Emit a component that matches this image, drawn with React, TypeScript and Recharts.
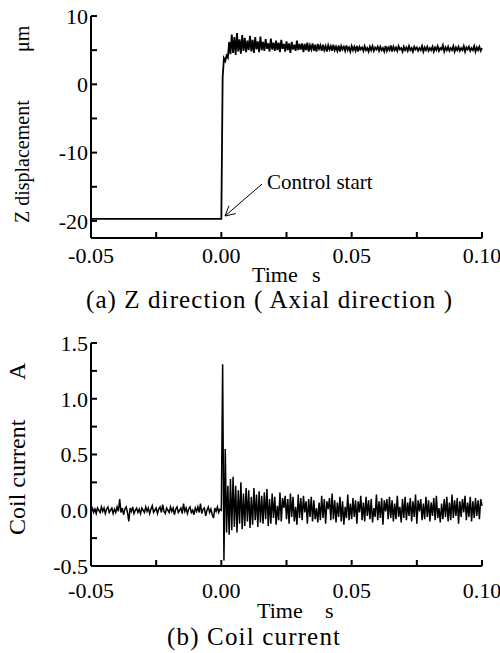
import React from "react"
import { LineChart, Line, XAxis, YAxis, ReferenceLine } from "recharts"

// sampling interval of the recorded signals (s)
const SAMPLE_STEP = 0.0005

// (a) Z displacement, µm: flat before control start, then noisy samples from t = 0.0005 s
const zBeforeTime = [-0.05, 0]
const zBeforeValue = [-19.7, -19.7]
const zAfterValue = [
  1.0, 3.8, 3.4, 4.2, 3.9, 6.2, 4.4, 7.3, 4.6, 6.9, 4.3, 7.5, 4.8, 6.6, 4.5, 7.2, 4.9, 6.8, 4.7, 6.4,
  5.0, 7.1, 4.8, 6.5, 4.6, 6.9, 5.1, 6.3, 4.7, 7.0, 5.0, 6.2, 4.9, 6.6, 5.2, 6.0, 4.8, 6.7, 5.1, 6.1,
  4.9, 6.4, 5.0, 6.1, 4.7, 6.5, 5.2, 5.9, 4.8, 6.3, 5.0, 6.0, 4.6, 6.2, 5.1, 5.8, 4.9, 6.4, 5.0, 5.9,
  5.1, 6.0, 4.7, 5.9, 5.0, 6.1, 4.8, 5.7, 5.1, 6.0, 4.9, 5.8, 4.8, 5.9, 5.2, 5.7, 4.9, 5.8, 5.0, 5.6,
  4.8, 5.7, 5.1, 5.6, 4.9, 5.8, 5.0, 5.5, 4.9, 5.7, 4.8, 5.6, 5.1, 5.5, 4.9, 5.7, 5.0, 5.4, 4.8, 5.6,
  5.0, 5.5, 4.9, 5.6, 4.8, 5.5, 5.1, 5.4, 4.9, 5.6, 5.0, 5.3, 4.8, 5.5, 5.0, 5.6, 4.9, 5.4, 5.1, 5.5,
  4.9, 5.5, 5.0, 5.3, 4.8, 5.6, 4.9, 5.4, 5.0, 5.7, 4.8, 5.5, 5.0, 5.4, 4.9, 5.6, 5.1, 5.3, 4.8, 5.5,
  5.0, 5.4, 4.9, 5.6, 5.0, 5.3, 4.8, 5.5, 5.1, 5.4, 4.9, 5.3, 5.0, 5.6, 4.8, 5.4, 5.0, 5.5, 4.9, 5.3,
  5.0, 5.5, 4.8, 5.4, 5.0, 5.6, 4.9, 5.3, 5.1, 5.7, 4.8, 5.4, 5.0, 5.5, 4.9, 5.3, 5.0, 5.6, 4.8, 5.4,
  5.0, 5.5, 4.9, 5.3, 5.0, 5.6, 4.8, 5.4, 5.1, 5.5, 4.9, 5.3, 5.0, 5.6, 4.8, 5.4, 5.0, 5.5, 4.9, 5.3,
]

// (b) coil current, A: samples from t = -0.05 s to 0.10 s
const currentStart = -0.05
const currentValue = [
  0.0, 0.02, -0.02, 0.01, -0.03, 0.02, 0.0, -0.02, 0.03, -0.01,
  0.02, -0.03, 0.01, 0.03, -0.02, 0.0, 0.02, -0.03, 0.01, -0.02,
  0.03, -0.01, 0.1, -0.02, 0.02, -0.04, 0.01, 0.03, -0.02, -0.1,
  0.02, -0.01, 0.03, -0.03, 0.0, 0.02, -0.02, 0.01, -0.03, 0.02,
  0.0, -0.02, 0.03, -0.01, 0.02, -0.03, 0.01, 0.04, -0.02, 0.0,
  0.02, -0.03, 0.01, 0.03, -0.02, 0.05, -0.01, -0.03, 0.02, 0.0,
  -0.02, 0.03, -0.01, 0.02, -0.04, 0.01, 0.03, -0.02, 0.0, 0.02,
  -0.03, 0.06, -0.01, 0.02, -0.03, 0.01, 0.03, -0.02, 0.0, -0.04,
  0.02, -0.01, 0.03, -0.02, 0.06, -0.03, 0.01, 0.02, -0.05, 0.0,
  0.03, -0.02, 0.01, -0.04, -0.07, 0.02, -0.01, 0.03, -0.02, 0.01,
  0.0, 1.31, -0.45, 0.55, -0.2, 0.22, -0.22, 0.28, -0.18, 0.3,
  -0.15, 0.22, -0.2, 0.18, -0.12, 0.25, -0.17, 0.15, -0.14, 0.2,
  -0.1, 0.18, -0.16, 0.12, -0.13, 0.2, -0.09, 0.14, -0.15, 0.17,
  -0.11, 0.13, -0.12, 0.16, -0.08, 0.19, -0.14, 0.1, -0.12, 0.15,
  -0.07, 0.12, -0.13, 0.04, -0.09, 0.16, -0.1, 0.11, 0.02, 0.13,
  -0.08, 0.1, -0.12, 0.15, -0.06, 0.12, -0.1, 0.03, -0.13, 0.14,
  -0.07, 0.11, -0.09, 0.13, -0.02, 0.08, -0.12, 0.1, -0.06, 0.12,
  -0.1, 0.09, -0.08, 0.02, -0.11, 0.07, -0.09, 0.13, -0.07, 0.1,
  -0.12, 0.08, 0.01, 0.11, -0.09, 0.15, -0.08, 0.09, -0.11, 0.07,
  -0.06, 0.12, -0.1, 0.08, -0.13, 0.03, -0.07, 0.14, -0.09, 0.06,
  -0.08, 0.11, -0.06, 0.09, -0.12, 0.08, -0.02, 0.13, -0.09, 0.07,
  -0.1, 0.12, -0.05, 0.09, -0.08, 0.1, -0.11, 0.02, -0.06, 0.14,
  -0.09, 0.08, -0.07, 0.11, -0.13, 0.09, -0.01, 0.1, -0.08, 0.12,
  -0.07, 0.09, -0.1, 0.06, -0.08, 0.13, -0.06, 0.03, -0.11, 0.1,
  -0.07, 0.12, -0.09, 0.07, -0.05, 0.11, -0.1, 0.08, -0.06, 0.14,
  -0.12, 0.09, -0.01, 0.1, -0.09, 0.06, -0.08, 0.12, -0.06, 0.09,
  -0.1, 0.07, -0.05, 0.11, -0.09, 0.13, -0.07, 0.02, -0.11, 0.06,
  -0.08, 0.1, -0.06, 0.12, -0.1, 0.07, -0.09, 0.14, -0.07, 0.09,
  -0.05, 0.11, -0.12, 0.08, -0.06, 0.1, -0.02, 0.13, -0.09, 0.07,
  -0.06, 0.12, -0.1, 0.08, -0.07, 0.11, -0.05, 0.09, -0.08, 0.1,
  0.04,
]

const timeTicks = [-0.05, -0.025, 0, 0.025, 0.05, 0.075, 0.1]
const zTicks = [-20, -15, -10, -5, 0, 5, 10]
const currentTicks = [-0.5, -0.25, 0, 0.25, 0.5, 0.75, 1, 1.25, 1.5]

const zData = [
  ...zBeforeTime.map((t, i) => ({ t, z: zBeforeValue[i] })),
  ...zAfterValue.map((z, i) => ({ t: +((i + 1) * SAMPLE_STEP).toFixed(4), z })),
]
const currentData = currentValue.map((c, i) => ({
  t: +(currentStart + i * SAMPLE_STEP).toFixed(4),
  c,
}))

const FONT = "Liberation Serif, DejaVu Serif, serif"
const tickStyle = { fontSize: 22, fill: "#000", fontFamily: FONT }
const axisLine = { stroke: "#000", strokeWidth: 2 }
const tickLine = { stroke: "#000", strokeWidth: 2 }

const isMultiple = (v: number, step: number) =>
  Math.abs(v / step - Math.round(v / step)) < 1e-6

const fmtTime = (v: number) => (isMultiple(v, 0.05) ? v.toFixed(2) : "")
const fmtZ = (v: number) => (isMultiple(v, 10) ? String(v) : "")
const fmtCurrent = (v: number) => (isMultiple(v, 0.5) ? v.toFixed(1) : "")

function Frame() {
  return (
    <>
      <XAxis
        xAxisId="top"
        orientation="top"
        type="number"
        domain={[-0.05, 0.1]}
        height={0}
        tick={false}
        tickLine={false}
        axisLine={axisLine}
      />
      <YAxis
        yAxisId="right"
        orientation="right"
        type="number"
        domain={[0, 1]}
        width={0}
        tick={false}
        tickLine={false}
        axisLine={axisLine}
      />
    </>
  )
}

// arrow pointing at the control start instant
const arrowTip = { x: 0.00141, y: -19.28 }
const arrowLines = [
  { x: 0.0156, y: -14.6 },
  { x: 0.00551, y: -18.93 },
  { x: 0.00294, y: -17.77 },
]

export default function App() {
  return (
    <div
      style={{
        position: "absolute",
        left: 0,
        top: 0,
        width: 500,
        height: 653,
        background: "#fff",
      }}
    >
      <div style={{ position: "absolute", left: 0, top: 0 }}>
        <LineChart
          width={500}
          height={320}
          data={zData}
          margin={{ top: 16, right: 18, left: 0, bottom: 52 }}
        >
          <XAxis
            dataKey="t"
            type="number"
            domain={[-0.05, 0.1]}
            ticks={timeTicks}
            interval={0}
            tickFormatter={fmtTime}
            tick={tickStyle}
            tickSize={-6}
            tickMargin={15}
            height={30}
            axisLine={axisLine}
            tickLine={tickLine}
          />
          <YAxis
            type="number"
            domain={[-22.5, 10]}
            ticks={zTicks}
            interval={0}
            tickFormatter={fmtZ}
            tick={tickStyle}
            tickSize={-6}
            tickMargin={9}
            width={91}
            axisLine={axisLine}
            tickLine={tickLine}
          />
          {Frame()}
          <Line
            dataKey="z"
            type="linear"
            stroke="#000"
            strokeWidth={1.8}
            dot={false}
            isAnimationActive={false}
          />
          {arrowLines.map((p, i) => (
            <ReferenceLine
              key={i}
              segment={[p, arrowTip]}
              stroke="#000"
              strokeWidth={1}
              ifOverflow="visible"
            />
          ))}
        </LineChart>
      </div>

      <div style={{ position: "absolute", left: 0, top: 320 }}>
        <LineChart
          width={500}
          height={333}
          data={currentData}
          margin={{ top: 23, right: 18, left: 0, bottom: 57 }}
        >
          <XAxis
            dataKey="t"
            type="number"
            domain={[-0.05, 0.1]}
            ticks={timeTicks}
            interval={0}
            tickFormatter={fmtTime}
            tick={tickStyle}
            tickSize={-6}
            tickMargin={22}
            height={30}
            axisLine={axisLine}
            tickLine={tickLine}
          />
          <YAxis
            type="number"
            domain={[-0.5, 1.5]}
            ticks={currentTicks}
            interval={0}
            tickFormatter={fmtCurrent}
            tick={tickStyle}
            tickSize={-6}
            tickMargin={9}
            width={91}
            axisLine={axisLine}
            tickLine={tickLine}
          />
          {Frame()}
          <Line
            dataKey="c"
            type="linear"
            stroke="#000"
            strokeWidth={1.5}
            dot={false}
            isAnimationActive={false}
          />
        </LineChart>
      </div>

      {/* titles, axis names and annotation */}
      <svg
        width={500}
        height={653}
        style={{ position: "absolute", left: 0, top: 0, pointerEvents: "none" }}
        fontFamily={FONT}
        fill="#000"
      >
        <text x={267} y={189} fontSize={21}>
          Control start
        </text>

        <text x={252} y={282} fontSize={22}>Time</text>
        <text x={312} y={282} fontSize={22}>s</text>
        <text x={86} y={308} fontSize={25} textLength={366} lengthAdjust="spacing">
          (a)  Z direction  ( Axial direction )
        </text>

        <text x={257} y={618} fontSize={22}>Time</text>
        <text x={325} y={618} fontSize={22}>s</text>
        <text x={167} y={645} fontSize={25} textLength={173} lengthAdjust="spacing">
          (b)  Coil current
        </text>

        <text transform="translate(29,223) rotate(-90)" fontSize={20}>
          Z displacement
        </text>
        <text transform="translate(29,52) rotate(-90)" fontSize={20}>
          μm
        </text>

        <text transform="translate(25,535) rotate(-90)" fontSize={24}>
          Coil current
        </text>
        <text transform="translate(25,380) rotate(-90)" fontSize={24}>
          A
        </text>
      </svg>
    </div>
  )
}
